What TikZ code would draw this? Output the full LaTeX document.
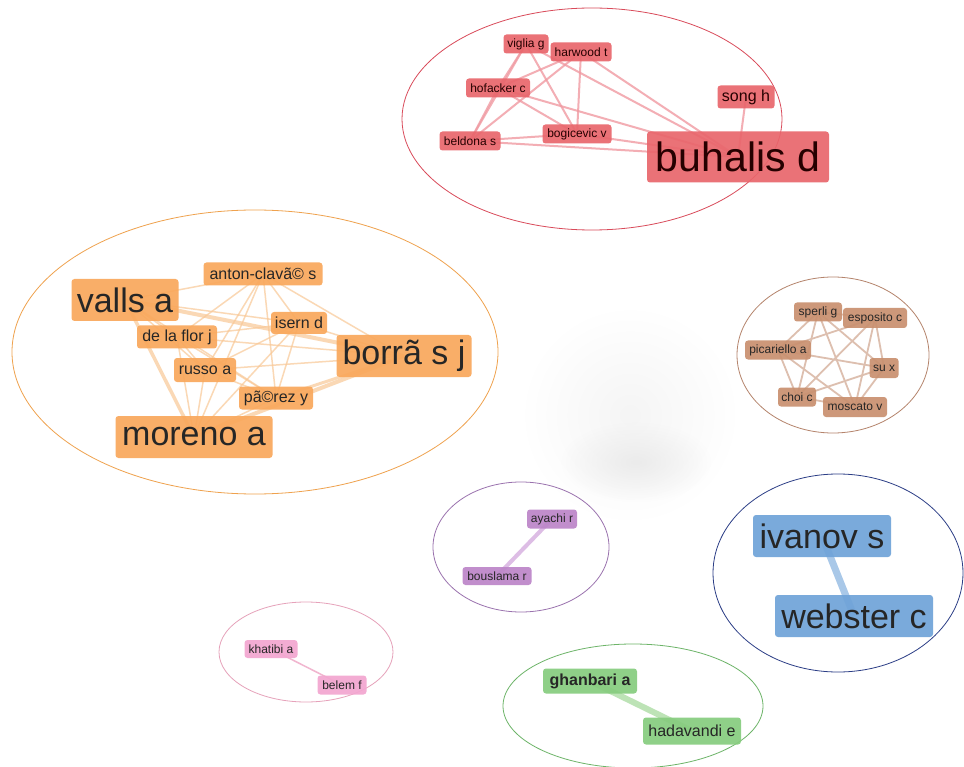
\documentclass[tikz,border=0pt]{standalone}
\usepackage{fontspec}
\setmainfont{Liberation Sans}
\usetikzlibrary{backgrounds,fadings}
\tikzfading[name=glowfade, inner color=transparent!0, outer color=transparent!100]
\newcommand\szS{\fontsize{12}{14}\selectfont}
\newcommand\szM{\fontsize{16}{19}\selectfont}
\newcommand\szL{\fontsize{34}{40}\selectfont}
\newcommand\szXL{\fontsize{41}{48}\selectfont}
\definecolor{redF}{HTML}{E9666C}\definecolor{redE}{HTML}{D94A5A}\definecolor{redL}{HTML}{F09AA2}
\definecolor{orF}{HTML}{F9A85C}\definecolor{orE}{HTML}{EFA24E}\definecolor{orL}{HTML}{F9C896}
\definecolor{brF}{HTML}{C9906F}\definecolor{brE}{HTML}{B5846C}\definecolor{brL}{HTML}{DDBFAF}
\definecolor{puF}{HTML}{BC85C8}\definecolor{puE}{HTML}{9A72AE}\definecolor{puL}{HTML}{DDBDE5}
\definecolor{piF}{HTML}{F3A6D0}\definecolor{piE}{HTML}{E6A2BA}\definecolor{piL}{HTML}{F1B6CF}
\definecolor{grF}{HTML}{86CC7E}\definecolor{grE}{HTML}{6DB468}\definecolor{grL}{HTML}{BDE3B6}
\definecolor{blF}{HTML}{6FA3D8}\definecolor{blE}{HTML}{2C3E86}\definecolor{blL}{HTML}{A9C8E8}
\tikzset{
  nd/.style={rounded corners=3pt, inner sep=0pt, fill opacity=0.92, text opacity=1, align=center},
  rn/.style={nd, fill=redF, text=black!85!red},
  on/.style={nd, fill=orF, text=black!85},
  bn/.style={nd, fill=brF, text=black!85},
  pn/.style={nd, fill=puF, text=black!85},
  kn/.style={nd, fill=piF, text=black!85},
  gn/.style={nd, fill=grF, text=black!85},
  un/.style={nd, fill=blF, text=black!85},
  hull/.style={line width=0.8pt},
}
\begin{document}
\begin{tikzpicture}[x=1pt,y=-1pt]
\useasboundingbox (0,0) rectangle (964,767);
% hulls
\draw[hull, redE] (592,119) ellipse (190 and 111);
\draw[hull, orE] (255,352) ellipse (243 and 142);
\draw[hull, brE] (833,355) ellipse (96 and 78);
\draw[hull, puE] (521,547) ellipse (88 and 65);
\draw[hull, piE] (306,652) ellipse (87 and 50);
\draw[hull, grE] (633,706) ellipse (130 and 62);
\draw[hull, blE] (838,573) ellipse (125 and 99);
% red nodes
\node[rn, minimum width=45, minimum height=19] (viglia) at (526,44) {\szS viglia g};
\node[rn, minimum width=61, minimum height=19] (harwood) at (581,52) {\szS harwood t};
\node[rn, minimum width=64, minimum height=19] (hofacker) at (498,88) {\szS hofacker c};
\node[rn, minimum width=57, minimum height=23] (song) at (746,97) {\szM song h};
\node[rn, minimum width=61, minimum height=19] (beldona) at (470,141) {\szS beldona s};
\node[rn, minimum width=69, minimum height=19] (bogicevic) at (577,134) {\szS bogicevic v};
\node[rn, minimum width=182, minimum height=51] (buhalis) at (738,157) {\szXL buhalis d};
% orange nodes
\node[on, minimum width=119, minimum height=23] (anton) at (263,274) {\szM anton-clavã© s};
\node[on, minimum width=107, minimum height=42] (valls) at (125,300) {\szL valls a};
\node[on, minimum width=56, minimum height=22] (isern) at (299,323) {\szM isern d};
\node[on, minimum width=80, minimum height=23] (delaflor) at (177,337) {\szM de la flor j};
\node[on, minimum width=135, minimum height=42] (borras) at (404,356) {\szL borrã s j};
\node[on, minimum width=62, minimum height=24] (russo) at (205,370) {\szM russo a};
\node[on, minimum width=74, minimum height=23] (perez) at (276,398) {\szM pã©rez y};
\node[on, minimum width=157, minimum height=42] (moreno) at (194,437) {\szL moreno a};
% brown nodes
\node[bn, minimum width=48, minimum height=19] (sperli) at (818,312) {\szS sperli g};
\node[bn, minimum width=64, minimum height=20] (esposito) at (875,318) {\szS esposito c};
\node[bn, minimum width=66, minimum height=19] (picariello) at (778,350) {\szS picariello a};
\node[bn, minimum width=29, minimum height=20] (su) at (884,368) {\szS su x};
\node[bn, minimum width=38, minimum height=19] (choi) at (797,397) {\szS choi c};
\node[bn, minimum width=64, minimum height=20] (moscato) at (855,407) {\szS moscato v};
% purple nodes
\node[pn, minimum width=50, minimum height=19] (ayachi) at (552,519) {\szS ayachi r};
\node[pn, minimum width=69, minimum height=18] (bouslama) at (497,576) {\szS bouslama r};
% pink nodes
\node[kn, minimum width=53, minimum height=18] (khatibi) at (271,649) {\szS khatibi a};
\node[kn, minimum width=49, minimum height=19] (belem) at (342,685) {\szS belem f};
% green nodes
\node[gn, minimum width=94, minimum height=25] (ghanbari) at (590,681) {\szM\bfseries ghanbari a};
\node[gn, minimum width=98, minimum height=27] (hadavandi) at (692,731) {\szM hadavandi e};
% blue nodes
\node[un, minimum width=138, minimum height=42] (ivanov) at (822,536) {\szL ivanov s};
\node[un, minimum width=158, minimum height=42] (webster) at (854,616) {\szL webster c};
% background, glow and edges
\begin{scope}[on background layer]
\fill[white] (0,0) rectangle (964,767);
\fill[gray!8, path fading=glowfade] (630,415) circle (105);
\fill[gray!16, path fading=glowfade] (636,462) ellipse (75 and 40);
\begin{scope}[redL, line width=2pt, opacity=0.8]
\foreach \a/\b in {viglia/beldona, viglia/bogicevic, viglia/buhalis, viglia/hofacker,
  harwood/hofacker, harwood/beldona, harwood/bogicevic, harwood/buhalis,
  hofacker/bogicevic, hofacker/buhalis, hofacker/beldona,
  beldona/bogicevic, beldona/buhalis, bogicevic/buhalis, song/buhalis}
  \draw (\a.center) -- (\b.center);
\end{scope}
\begin{scope}[orL, line width=1.5pt, opacity=0.7]
\foreach \a/\b in {anton/valls, anton/isern, anton/delaflor, anton/borras, anton/russo, anton/perez, anton/moreno,
  valls/isern, valls/delaflor, valls/russo, valls/perez,
  isern/delaflor, isern/borras, isern/russo, isern/perez, isern/moreno,
  delaflor/borras, delaflor/russo, delaflor/perez, delaflor/moreno,
  borras/russo, russo/perez, russo/moreno, perez/moreno}
  \draw (\a.center) -- (\b.center);
\draw[line width=4pt] (valls.center) -- (borras.center);
\draw[line width=3.5pt] (valls.center) -- (moreno.center);
\draw[line width=4pt] (borras.center) -- (moreno.center);
\draw[line width=3pt] (borras.center) -- (perez.center);
\end{scope}
\begin{scope}[brL, line width=1.8pt]
\foreach \a/\b in {sperli/esposito, sperli/picariello, sperli/su, sperli/choi, sperli/moscato,
  esposito/picariello, esposito/su, esposito/choi, esposito/moscato,
  picariello/su, picariello/choi, picariello/moscato,
  su/choi, su/moscato, choi/moscato}
  \draw (\a.center) -- (\b.center);
\end{scope}
\draw[puL, line width=4pt] (ayachi.center) -- (bouslama.center);
\draw[piL, line width=1.5pt] (khatibi.center) -- (belem.center);
\draw[grL, line width=6pt] (ghanbari.center) -- (hadavandi.center);
\draw[blL, line width=7pt] (ivanov.center) -- (webster.center);
\end{scope}
\end{tikzpicture}
\end{document}
